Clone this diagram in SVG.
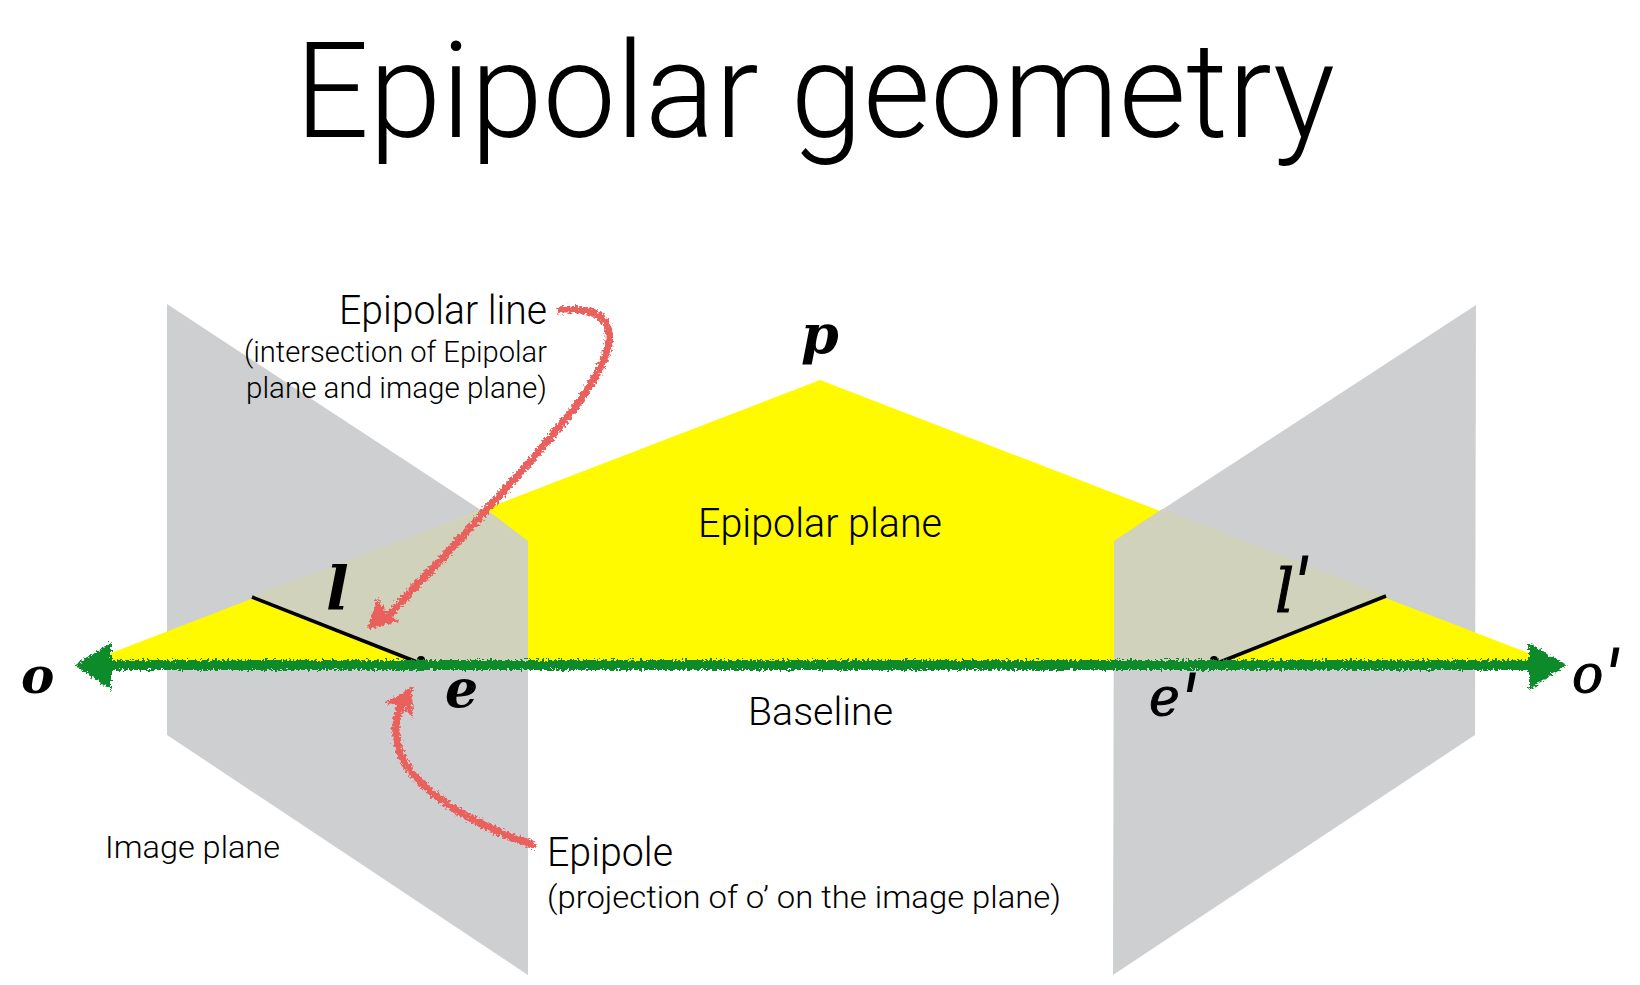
<svg xmlns="http://www.w3.org/2000/svg" width="1640" height="985" viewBox="0 0 1640 985">
<defs>
<style>
text{font-family:"Roboto","Liberation Sans",sans-serif;font-weight:300;fill:#000}
.m{font-family:"DejaVu Serif","Liberation Serif",serif;font-style:italic;font-weight:700;font-size:50px}
.n{font-weight:400;stroke:#000;stroke-width:1}
.pr{font-family:"Roboto",sans-serif;font-style:italic;font-weight:400;font-size:84px;stroke:none}
.g{fill:#cecfd1}.y{fill:#fffa00}.o{fill:#d0d2bb}
.k{stroke:#000;stroke-width:3.5;fill:none}
.red{stroke:#e9605c;stroke-width:7.5;fill:none;stroke-linecap:butt}
</style>
<filter id="soft" x="-2%" y="-2%" width="104%" height="104%"><feGaussianBlur stdDeviation="0.7"/></filter>
<filter id="rough" x="-5%" y="-30%" width="110%" height="160%">
<feTurbulence type="fractalNoise" baseFrequency="0.4" numOctaves="2" seed="3"/>
<feDisplacementMap in="SourceGraphic" scale="8" xChannelSelector="R" yChannelSelector="G"/>
<feGaussianBlur stdDeviation="0.5"/>
</filter>
</defs>
<rect width="1640" height="985" fill="#fff"/>
<g id="image-plane-left" filter="url(#soft)"><polygon class="g" points="167,304 528,541 528,975 167,735"/></g>
<g id="image-plane-right" filter="url(#soft)"><polygon class="g" points="1476,305 1114,541 1113,975 1475,735"/></g>
<g id="epipolar-plane" filter="url(#soft)">
<polygon class="y" points="820,380 1565,667 75,667"/>
<polygon class="o" points="252,596 486,509 528,541 528,663 421,663"/>
<polygon class="o" points="1386,596 1162,509 1114,541 1114,663 1214,663"/>
</g>
<g id="connectors">
<path class="k" d="M252,597L417,662"/><circle cx="421" cy="660" r="4"/>
<path class="k" d="M1386,596L1220,662"/><circle cx="1214" cy="660" r="4"/>
<g id="baseline" filter="url(#rough)" fill="#0d8a2b">
<rect x="105" y="660" width="1430" height="10"/>
<polygon points="75,665 111,643 111,690"/>
<polygon points="1566,665 1529,643 1529,690"/>
</g>
<g id="arrow-epipolar-line" filter="url(#rough)">
<path class="red" d="M558,310C575,309 590,309 600,316C610,325 612,340 606,354C598,376 578,405 555,432C530,462 505,490 486,510C465,535 440,560 387,617"/>
<polygon fill="#e9605c" points="367,629 377,598 388,615 399,621"/>
</g>
<g id="arrow-epipole" filter="url(#rough)">
<path class="red" d="M535,846C505,835 475,822 453,808C430,792 412,778 402,757C394,738 394,725 401,704"/>
<polygon fill="#e9605c" points="412,687 384,703 402,705 413,719"/>
</g>
</g>
<g id="title"><text x="295" y="137" font-size="133" textLength="1040" lengthAdjust="spacingAndGlyphs">Epipolar geometry</text></g>
<g id="label-epipolar-line">
<text x="339" y="324" font-size="40" textLength="208" lengthAdjust="spacingAndGlyphs">Epipolar line</text>
<text x="244" y="362" font-size="30" textLength="303" lengthAdjust="spacingAndGlyphs">(intersection of Epipolar</text>
<text x="246" y="398" font-size="30" textLength="301" lengthAdjust="spacingAndGlyphs">plane and image plane)</text>
</g>
<g id="label-epipolar-plane"><text x="698" y="537" font-size="40" textLength="244" lengthAdjust="spacingAndGlyphs">Epipolar plane</text></g>
<g id="label-baseline"><text x="748" y="725" font-size="38" textLength="145" lengthAdjust="spacingAndGlyphs">Baseline</text></g>
<g id="label-image-plane"><text x="105" y="858" font-size="32" textLength="175" lengthAdjust="spacingAndGlyphs">Image plane</text></g>
<g id="label-epipole">
<text x="547" y="866" font-size="40" textLength="126" lengthAdjust="spacingAndGlyphs">Epipole</text>
<text x="547" y="908" font-size="32" textLength="514" lengthAdjust="spacingAndGlyphs">(projection of o’ on the image plane)</text>
</g>
<g id="point-p"><text class="m" x="801" y="353" style="font-size:54px">p</text></g>
<g id="point-o"><text class="m" x="21" y="693" style="font-size:50px">o</text></g>
<g id="point-o-prime"><text class="m n" x="1572" y="692" style="font-size:52px">o<tspan class="pr" dx="0" dy="18">′</tspan></text></g>
<g id="point-e"><text class="m" x="445" y="707" style="font-size:52px">e</text></g>
<g id="point-e-prime"><text class="m n" x="1149" y="715" style="font-size:52px">e<tspan class="pr" dx="0" dy="20">′</tspan></text></g>
<g id="line-l"><text class="m" x="326" y="610" style="font-size:60px">l</text></g>
<g id="line-l-prime"><text class="m n" x="1275" y="612" style="font-size:60px">l<tspan class="pr" dx="-2" dy="6">′</tspan></text></g>
</svg>
